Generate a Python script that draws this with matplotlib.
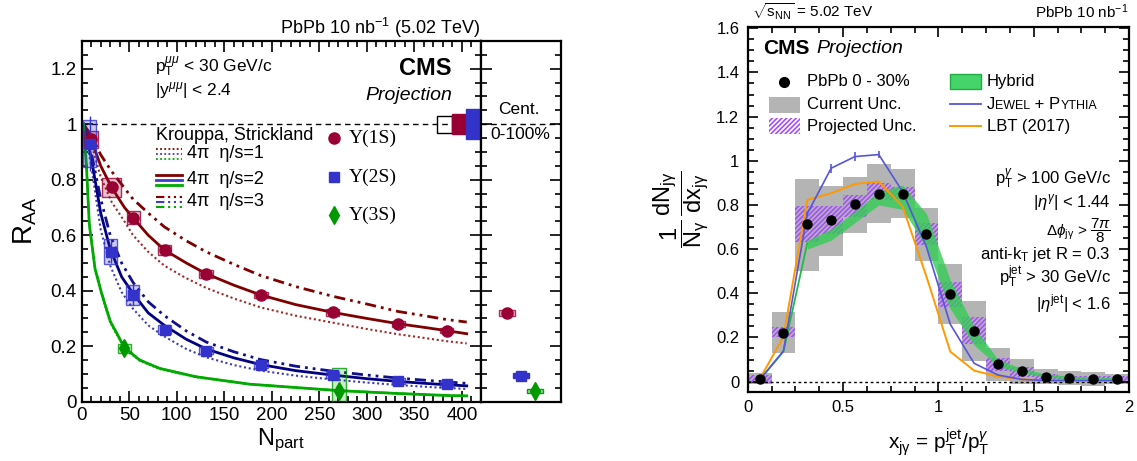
import numpy as np
import matplotlib
matplotlib.use('Agg')
import matplotlib.pyplot as plt
from matplotlib.patches import Rectangle
from matplotlib.lines import Line2D
from matplotlib.ticker import MultipleLocator, FuncFormatter
from matplotlib.offsetbox import TextArea, HPacker, AnnotationBbox

plt.rcParams['font.family'] = ['Liberation Sans', 'DejaVu Sans']
plt.rcParams['mathtext.fontset'] = 'custom'
plt.rcParams['mathtext.rm'] = 'Liberation Sans'
plt.rcParams['mathtext.it'] = 'Liberation Sans:italic'
plt.rcParams['mathtext.bf'] = 'Liberation Sans:bold'
plt.rcParams['hatch.linewidth'] = 1.2

# ---------------- left panel data: Upsilon R_AA vs Npart
npart_1s = [9.8, 31.5, 54.3, 87.3, 130.7, 188.5, 264, 333, 384]
raa_1s = [0.945, 0.772, 0.663, 0.547, 0.461, 0.385, 0.322, 0.281, 0.256]
syst_1s = [0.03, 0.035, 0.024, 0.019, 0.015, 0.012, 0.012, 0.01, 0.01]
boxw_1s = [7, 10, 7, 7, 7, 7, 7, 7, 7]

npart_2s = [8.4, 30.5, 53.6, 87.3, 130.7, 188.5, 264, 333, 384]
raa_2s = [0.93, 0.54, 0.384, 0.26, 0.184, 0.132, 0.096, 0.0745, 0.064]
syst_2s = [0.085, 0.045, 0.035, 0.015, 0.013, 0.012, 0.012, 0.01, 0.01]
stat_2s = [0.1, 0.04, 0.035, 0.01, 0.01, 0.01, 0.01, 0.01, 0.012]
boxw_2s = [7, 7, 7, 7, 7, 7, 7, 7, 7]

npart_3s = [45, 270.6]
raa_3s = [0.192, 0.0385]
syst_3s = [0.015, 0.061]
stat_3s = [0.02, 0.025]

# integrated (0-100%) points in the side panel
int_pos = [0.33, 0.5, 0.67]
int_raa = [0.32, 0.094, 0.0385]

# global normalisation boxes at R_AA = 1
norm_left = [374, 389.4, 404]
norm_half = [0.03, 0.036, 0.054]

# Krouppa-Strickland curves
ks1_n = [2, 10, 20, 31.5, 45, 54, 70, 87, 110, 131, 160, 188, 225, 264, 300, 333, 360, 384, 405]
ks1_eta2 = [1.0, 0.945, 0.85, 0.772, 0.70, 0.663, 0.60, 0.547, 0.50, 0.461, 0.42, 0.385, 0.35, 0.322, 0.30, 0.281, 0.268, 0.256, 0.245]
ks1_eta1 = [1.0, 0.93, 0.81, 0.72, 0.65, 0.60, 0.54, 0.49, 0.445, 0.41, 0.372, 0.34, 0.31, 0.285, 0.262, 0.243, 0.23, 0.218, 0.21]
ks1_eta3 = [1.0, 0.96, 0.89, 0.83, 0.77, 0.73, 0.68, 0.63, 0.58, 0.54, 0.495, 0.455, 0.415, 0.38, 0.352, 0.325, 0.31, 0.296, 0.287]

ks2_n = [2, 10, 20, 30, 42, 54, 70, 87, 110, 131, 160, 188, 225, 264, 300, 333, 370, 405]
ks2_eta2 = [1.0, 0.88, 0.68, 0.55, 0.45, 0.39, 0.32, 0.275, 0.225, 0.19, 0.158, 0.134, 0.112, 0.096, 0.083, 0.073, 0.064, 0.057]
ks2_eta1 = [1.0, 0.85, 0.62, 0.49, 0.395, 0.335, 0.275, 0.235, 0.19, 0.16, 0.132, 0.112, 0.094, 0.08, 0.069, 0.06, 0.052, 0.046]
ks2_eta3 = [1.0, 0.9, 0.73, 0.6, 0.5, 0.43, 0.36, 0.31, 0.255, 0.215, 0.18, 0.152, 0.128, 0.11, 0.096, 0.085, 0.075, 0.066]

ks3_n = [2, 5, 8, 14, 21, 30, 45, 61, 82, 120, 177, 270, 330, 387, 405]
ks3_eta2 = [1.0, 0.85, 0.64, 0.48, 0.39, 0.29, 0.195, 0.15, 0.12, 0.09, 0.063, 0.04, 0.03, 0.022, 0.021]
ks3_eta1 = [1.0, 0.84, 0.63, 0.47, 0.382, 0.284, 0.19, 0.147, 0.117, 0.088, 0.062, 0.039, 0.029, 0.021, 0.02]
ks3_eta3 = [1.0, 0.855, 0.645, 0.485, 0.394, 0.293, 0.197, 0.152, 0.121, 0.091, 0.064, 0.041, 0.031, 0.023, 0.022]

# ---------------- right panel data: x_jgamma
xj = [0.0625, 0.1875, 0.3125, 0.4375, 0.5625, 0.6875, 0.8125, 0.9375,
      1.0625, 1.1875, 1.3125, 1.4375, 1.5625, 1.6875, 1.8125, 1.9375]
dndx = [0.012, 0.222, 0.713, 0.731, 0.802, 0.85, 0.85, 0.667,
        0.396, 0.23, 0.079, 0.047, 0.02, 0.015, 0.014, 0.014]
cur_lo = [-0.01, 0.131, 0.503, 0.569, 0.675, 0.717, 0.743, 0.547,
          0.261, 0.094, 0.002, -0.01, -0.01, -0.016, -0.018, -0.01]
cur_hi = [0.038, 0.313, 0.917, 0.886, 0.927, 0.986, 0.963, 0.788,
          0.532, 0.365, 0.151, 0.103, 0.057, 0.048, 0.044, 0.036]
proj_lo = [-0.008, 0.201, 0.63, 0.67, 0.747, 0.823, 0.823, 0.619,
           0.34, 0.169, 0.05, 0.023, 0.006, 0.003, 0.003, 0.003]
proj_hi = [0.03, 0.249, 0.793, 0.793, 0.845, 0.899, 0.879, 0.717,
           0.453, 0.294, 0.106, 0.065, 0.034, 0.027, 0.026, 0.025]

hyb_x = xj[2:]
hyb_lo = [0.60, 0.64, 0.72, 0.80, 0.78, 0.61, 0.33, 0.166, 0.07, 0.04, 0.02, 0.012, 0.01, 0.01]
hyb_hi = [0.64, 0.69, 0.77, 0.86, 0.89, 0.76, 0.46, 0.249, 0.10, 0.06, 0.035, 0.025, 0.02, 0.018]
hyb_low_x = xj[:3]
hyb_low_y = [0.008, 0.136, 0.627]

jewel = [0.008, 0.139, 0.76, 0.966, 1.019, 1.028, 0.86, 0.61,
         0.26, 0.083, 0.03, 0.01, 0.005, 0.005, 0.005, 0.005]
jewel_err = [0, 0, 0.01, 0.02, 0.02, 0.015, 0.01, 0, 0, 0, 0, 0, 0, 0, 0, 0]
lbt = [0.01, 0.204, 0.823, 0.853, 0.895, 0.906, 0.793, 0.476,
       0.136, 0.05, 0.023, 0.01, 0.005, 0.005, 0.005, 0.005]

W, H = 1137, 461
fig = plt.figure(figsize=(W / 100, H / 100), dpi=100)

def fx(px):
    return px / W

def fy(py):
    return 1 - py / H

axL = fig.add_axes([fx(81.7), fy(401.7), fx(481) - fx(81.7), fy(41) - fy(401.7)])
axS = fig.add_axes([fx(481), fy(401.7), fx(561) - fx(481), fy(41) - fy(401.7)])
axR = fig.add_axes([fx(747.7), fy(392), fx(1129) - fx(747.7), fy(26.7) - fy(392)])

gfmt = FuncFormatter(lambda v, p: '%g' % round(v, 3))

c1, c2, c3 = '#990033', '#3333cc', '#009900'
lc1, lc2, lc3 = '#800000', '#000080', '#00aa00'
dot = (0, (1, 1.3))
dashdot = (0, (4, 1.8, 1, 1.8, 1, 1.8))

# ---- left main axes
axL.set_xlim(0, 420)
axL.set_ylim(0, 1.3)
axL.axhline(1, color='k', ls=(0, (4, 3)), lw=1)

axL.bar(norm_left, [2 * h for h in norm_half], bottom=[1 - h for h in norm_half],
        width=15.4, align='edge', color=['none', '#990033', '#3333cc'],
        edgecolor=['k', '#990033', '#3333cc'], lw=1, zorder=5)

# model curves
axL.plot(ks1_n, ks1_eta1, color='#a02828', ls=dot, lw=1.5)
axL.plot(ks1_n, ks1_eta2, color=lc1, lw=2)
axL.plot(ks1_n, ks1_eta3, color=lc1, ls=dashdot, lw=2)
axL.plot(ks2_n, ks2_eta1, color='#3c3cb4', ls=dot, lw=1.5)
axL.plot(ks2_n, ks2_eta2, color=lc2, lw=2)
axL.plot(ks2_n, ks2_eta3, color='#10108c', ls=dashdot, lw=2)
axL.plot(ks3_n, ks3_eta1, color=lc3, ls=dot, lw=1.2)
axL.plot(ks3_n, ks3_eta3, color=lc3, ls=dashdot, lw=1.2)
axL.plot(ks3_n, ks3_eta2, color=lc3, lw=2)

# systematic boxes
axL.bar(npart_1s, [2 * s for s in syst_1s], bottom=np.subtract(raa_1s, syst_1s),
        width=[2 * w for w in boxw_1s], facecolor=(0.6, 0, 0.2, 0.25),
        edgecolor=(0.6, 0, 0.2, 0.8), lw=1, zorder=3)
axL.bar(npart_2s, [2 * s for s in syst_2s], bottom=np.subtract(raa_2s, syst_2s),
        width=[2 * w for w in boxw_2s], facecolor=(0.2, 0.2, 0.8, 0.25),
        edgecolor=(0.2, 0.2, 0.8, 0.8), lw=1, zorder=3)
axL.bar(npart_3s, [2 * s for s in syst_3s],
        bottom=[max(r - s, 0) for r, s in zip(raa_3s, syst_3s)],
        width=14, facecolor=(0, 0.6, 0, 0.2), edgecolor=(0, 0.6, 0, 0.8), lw=1, zorder=3)

axL.errorbar(npart_1s, raa_1s, yerr=0.008, fmt='o', color=c1, ms=8, lw=1, zorder=6)
axL.errorbar(npart_2s, raa_2s, yerr=stat_2s, fmt='s', color=c2, ms=7.5, lw=1, zorder=6)
axL.errorbar(npart_3s, raa_3s, yerr=stat_3s, fmt='d', color=c3, ms=9, lw=1, zorder=6)

axL.xaxis.set_major_locator(MultipleLocator(50))
axL.xaxis.set_minor_locator(MultipleLocator(10))
axL.yaxis.set_major_locator(MultipleLocator(0.2))
axL.yaxis.set_minor_locator(MultipleLocator(0.05))
axL.xaxis.set_major_formatter(gfmt)
axL.yaxis.set_major_formatter(gfmt)
axL.tick_params(which='both', direction='in', top=True, right=True, labelsize=13.5, width=1.2)
axL.tick_params(which='major', length=8)
axL.tick_params(which='minor', length=4)
for sp in axL.spines.values():
    sp.set_linewidth(1.6)
axL.set_xlabel(r'N$_{\rm part}$', fontsize=17, labelpad=2)
axL.set_ylabel(r'R$_{\rm AA}$', fontsize=20, labelpad=8)

axL.text(0.184, 0.928, r'p$_{\rm T}^{\mu\mu}$ < 30 GeV/c', transform=axL.transAxes, fontsize=12.5, va='center')
axL.text(0.184, 0.864, r'|y$^{\mu\mu}$| < 2.4', transform=axL.transAxes, fontsize=12.5, va='center')
axL.text(0.927, 0.925, 'CMS', transform=axL.transAxes, fontsize=17, weight='bold', ha='right', va='center')
axL.text(0.927, 0.848, 'Projection', transform=axL.transAxes, fontsize=14, style='italic', ha='right', va='center')
axL.text(0.185, 0.739, 'Krouppa, Strickland', transform=axL.transAxes, fontsize=13, va='center')

rows = [0.687, 0.615, 0.554]
styles = [(dot, 1.3), ('-', 2), (dashdot, 1.5)]
labels = [u'4\u03c0  \u03b7/s=1', u'4\u03c0  \u03b7/s=2', u'4\u03c0  \u03b7/s=3']
for yrow, (ls, lw), lab in zip(rows, styles, labels):
    for dy, col in zip([0.013, 0, -0.013], [lc1, '#3c3cd0', lc3]):
        axL.add_line(Line2D([0.185, 0.251], [yrow + dy, yrow + dy], transform=axL.transAxes,
                            color=col, ls=ls, lw=lw))
    axL.text(0.264, yrow, lab, transform=axL.transAxes, fontsize=13, va='center')

mrows = [0.731, 0.623, 0.517]
for yrow, m, col, ms, lab in zip(mrows, ['o', 's', 'd'], [c1, c2, c3], [8, 7.5, 9],
                                  [u'\u03a5(1S)', u'\u03a5(2S)', u'\u03a5(3S)']):
    axL.plot([0.632], [yrow], marker=m, color=col, ms=ms, transform=axL.transAxes, clip_on=False)
    axL.text(0.668, yrow, lab, transform=axL.transAxes, fontsize=14,
             family=['Liberation Serif', 'DejaVu Serif'], va='center')

# ---- side panel: integrated
axS.set_xlim(0, 1)
axS.set_ylim(0, 1.3)
axS.axhline(1, color='k', ls=(0, (4, 3)), lw=1)
axS.bar(int_pos, [0.02, 0.016, 0.016], bottom=np.subtract(int_raa, [0.01, 0.008, 0.008]),
        width=0.2, facecolor=['#e8b0c0', '#3333cc', '#9ee09e'],
        edgecolor=['#b03060', '#3333cc', '#00a000'], lw=1, zorder=3)
axS.errorbar(int_pos[0], int_raa[0], fmt='o', color=c1, ms=8, zorder=5)
axS.errorbar(int_pos[1], int_raa[1], fmt='s', color=c2, ms=7.5, zorder=5)
axS.errorbar(int_pos[2], int_raa[2], yerr=0.02, fmt='d', color=c3, ms=9, lw=1, zorder=5)
axS.yaxis.set_major_locator(MultipleLocator(0.2))
axS.yaxis.set_minor_locator(MultipleLocator(0.05))
axS.set_xticks([])
axS.tick_params(which='both', direction='in', left=True, right=True, labelleft=False, width=1.2)
axS.tick_params(which='major', length=8)
axS.tick_params(which='minor', length=4)
for sp in axS.spines.values():
    sp.set_linewidth(1.6)
axS.text(0.475, 0.809, 'Cent.', transform=axS.transAxes, fontsize=12.5, ha='center', va='center')
axS.text(0.49, 0.742, '0-100%', transform=axS.transAxes, fontsize=12.5, ha='center', va='center')

fig.text(fx(480), fy(28), r'PbPb 10 nb$^{-1}$ (5.02 TeV)', fontsize=13, ha='right', va='center')

# ---- right panel
axR.set_xlim(0, 2)
axR.set_ylim(-0.047, 1.607)
axR.bar(xj, np.subtract(cur_hi, cur_lo), bottom=cur_lo, width=0.125, color='#b4b4b4', lw=0, zorder=1)
axR.bar(xj, np.subtract(proj_hi, proj_lo), bottom=proj_lo, width=0.125, facecolor='none',
        edgecolor='#a64dff', hatch='///////', lw=0, zorder=2)
axR.fill_between(hyb_x, hyb_lo, hyb_hi, color='#33cc55', alpha=0.8, lw=0, zorder=3)
axR.plot(hyb_low_x, hyb_low_y, color='#22bb44', lw=1.3, zorder=3)
axR.axhline(0, color='k', ls=(0, (2, 2)), lw=1, zorder=2)
axR.errorbar(xj, jewel, yerr=jewel_err, color='#5555dd', lw=1.2, zorder=4)
axR.plot(xj, lbt, color='#ff9900', lw=1.4, zorder=4)
axR.plot(xj, dndx, 'o', color='k', ms=6.5, zorder=5)

axR.xaxis.set_major_locator(MultipleLocator(0.5))
axR.xaxis.set_minor_locator(MultipleLocator(0.125))
axR.yaxis.set_major_locator(MultipleLocator(0.2))
axR.yaxis.set_minor_locator(MultipleLocator(0.05))
axR.xaxis.set_major_formatter(gfmt)
axR.yaxis.set_major_formatter(gfmt)
axR.tick_params(which='both', direction='in', top=True, right=True, labelsize=12, width=1.2, pad=6)
axR.tick_params(which='major', length=7)
axR.tick_params(which='minor', length=4)
for sp in axR.spines.values():
    sp.set_linewidth(1.6)
axR.set_xlabel(r'x$_{\rm j\gamma}$ = p$_{\rm T}^{\rm jet}$/p$_{\rm T}^{\gamma}$', fontsize=15, labelpad=8)
axR.set_ylabel(r'$\dfrac{1}{\rm N_{\gamma}}\,\dfrac{\rm dN_{j\gamma}}{\rm dx_{j\gamma}}$', fontsize=17, labelpad=4)

fig.text(fx(751.7), fy(11.7), r'$\sqrt{\rm s_{NN}}$ = 5.02 TeV', fontsize=11, va='center')
fig.text(fx(1128), fy(11.7), r'PbPb 10 nb$^{-1}$', fontsize=11, ha='right', va='center')

axR.text(0.041, 0.941, 'CMS', transform=axR.transAxes, fontsize=15, weight='bold', va='center')
axR.text(0.18, 0.941, 'Projection', transform=axR.transAxes, fontsize=14, style='italic', va='center')

axR.plot([0.096], [0.849], 'o', color='k', ms=7, transform=axR.transAxes)
axR.add_patch(Rectangle((0.0567, 0.765), 0.08, 0.043, transform=axR.transAxes, color='#b4b4b4', lw=0))
axR.add_patch(Rectangle((0.0567, 0.706), 0.08, 0.044, transform=axR.transAxes, facecolor='none',
                        edgecolor='#a64dff', hatch='///////', lw=0))
axR.add_patch(Rectangle((0.531, 0.829), 0.08, 0.041, transform=axR.transAxes, facecolor='#44d46a',
                        edgecolor='#22aa44', lw=1))
axR.add_line(Line2D([0.531, 0.611], [0.788, 0.788], transform=axR.transAxes, color='#5555dd', lw=1.3))
axR.add_line(Line2D([0.531, 0.611], [0.728, 0.728], transform=axR.transAxes, color='#ff9900', lw=1.4))
axR.text(0.155, 0.849, 'PbPb 0 - 30%', transform=axR.transAxes, fontsize=12, va='center')
axR.text(0.155, 0.788, 'Current Unc.', transform=axR.transAxes, fontsize=12, va='center')
axR.text(0.155, 0.728, 'Projected Unc.', transform=axR.transAxes, fontsize=12, va='center')
axR.text(0.627, 0.849, 'Hybrid', transform=axR.transAxes, fontsize=12, va='center')
sc = HPacker(children=[TextArea('J', textprops=dict(fontsize=12)),
                       TextArea('EWEL', textprops=dict(fontsize=9)),
                       TextArea(' + P', textprops=dict(fontsize=12)),
                       TextArea('YTHIA', textprops=dict(fontsize=9))],
             align='baseline', pad=0, sep=0)
axR.add_artist(AnnotationBbox(sc, (0.627, 0.788), xycoords=axR.transAxes, box_alignment=(0, 0.5),
                              frameon=False, pad=0))
axR.text(0.627, 0.728, 'LBT (2017)', transform=axR.transAxes, fontsize=12, va='center')

info = [(0.584, r'p$_{\rm T}^{\gamma}$ > 100 GeV/c', 12),
        (0.518, r'|$\eta^{\gamma}$| < 1.44', 12),
        (0.442, r'$\Delta\phi_{\rm j\gamma}$ > $\dfrac{7\pi}{8}$', 11),
        (0.376, r'anti-k$_{\rm T}$ jet R = 0.3', 12),
        (0.316, r'p$_{\rm T}^{\rm jet}$ > 30 GeV/c', 12),
        (0.243, r'|$\eta^{\rm jet}$| < 1.6', 12)]
for yy, t, fs in info:
    axR.text(0.952, yy, t, transform=axR.transAxes, fontsize=fs, ha='right', va='center')

fig.savefig('out.png', dpi=100)
